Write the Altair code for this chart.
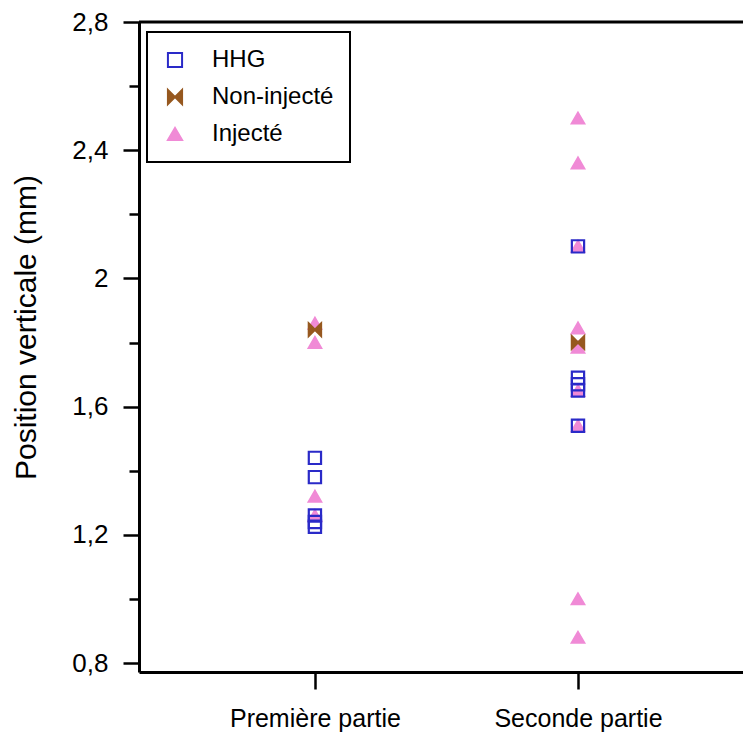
import altair as alt
import pandas as pd

# ---- data ----
categories = ["Première partie", "Seconde partie"]
series_names = ["HHG", "Non-injecté", "Injecté"]

hhg_premiere = [1.44, 1.38, 1.26, 1.24, 1.225]
hhg_seconde = [2.10, 1.69, 1.67, 1.65, 1.54]

noninj_premiere = [1.84]
noninj_seconde = [1.80]

inj_premiere = [1.86, 1.80, 1.32, 1.26]
inj_seconde = [2.50, 2.36, 2.10, 1.845, 1.785, 1.65, 1.54, 1.00, 0.88]

y_ticks_major = [0.8, 1.2, 1.6, 2.0, 2.4, 2.8]
y_ticks_all = [0.8, 1.0, 1.2, 1.4, 1.6, 1.8, 2.0, 2.2, 2.4, 2.6, 2.8]
y_domain = [0.772, 2.8]
frame_top = [2.8]

# ---- table (drawing order: Injecté, Non-injecté, HHG on top) ----
rows = []
for name, first, second in [
    ("Injecté", inj_premiere, inj_seconde),
    ("Non-injecté", noninj_premiere, noninj_seconde),
    ("HHG", hhg_premiere, hhg_seconde),
]:
    for v in first:
        rows.append({"partie": categories[0], "serie": name, "value": v})
    for v in second:
        rows.append({"partie": categories[1], "serie": name, "value": v})
df = pd.DataFrame(rows)

FONT = "Liberation Sans"
bowtie = "M-1,-1L0,0L-1,1Z M1,-1L0,0L1,1Z"

y_enc = alt.Y(
    "value:Q",
    scale=alt.Scale(domain=y_domain, nice=False, zero=False),
    axis=alt.Axis(
        title="Position verticale (mm)",
        values=y_ticks_all,
        labelExpr="round(datum.value*10) % 4 == 0 ? replace(format(datum.value, '.1~f'), '.', ',') : ''",
        tickSize={"condition": {"test": "round(datum.value*10) % 4 == 0", "value": 16}, "value": 10},
        tickWidth=2.5,
        tickColor="black",
        domainColor="black",
        domainWidth=3,
        labelFontSize=26,
        labelFont=FONT,
        labelColor="black",
        labelPadding=15,
        titleFont=FONT,
        titleFontSize=30,
        titleFontWeight="normal",
        titleColor="black",
        titlePadding=30,
        titleY=305,
        grid=False,
    ),
)

points = alt.Chart(df).mark_point(filled=False, strokeWidth=2.2, opacity=1).encode(
    x=alt.X(
        "partie:N",
        sort=categories,
        scale=alt.Scale(type="point", padding=0.648, align=0.516),
        axis=alt.Axis(
            title=None,
            labelAngle=0,
            tickSize=17,
            tickWidth=2.5,
            tickColor="black",
            domainColor="black",
            domainWidth=3,
            labelFontSize=25,
            labelFont=FONT,
            labelColor="black",
            labelPadding=17,
            grid=False,
        ),
    ),
    y=y_enc,
    shape=alt.Shape(
        "serie:N",
        scale=alt.Scale(domain=series_names, range=["square", bowtie, "triangle-up"]),
        legend=alt.Legend(
            title=None,
            orient="none",
            legendX=8,
            legendY=10,
            strokeColor="black",
            fillColor="white",
            padding=16,
            rowPadding=13,
            labelFontSize=24,
            labelFont=FONT,
            labelColor="black",
            labelOffset=25,
            symbolSize=200,
            symbolStrokeWidth=2,
        ),
    ),
    stroke=alt.Stroke(
        "serie:N",
        scale=alt.Scale(domain=series_names, range=["#2a2ac8", "#96581f", "#f08ad6"]),
        legend=None,
    ),
    fill=alt.Fill(
        "serie:N",
        scale=alt.Scale(domain=series_names, range=["transparent", "#96581f", "#f08ad6"]),
        legend=None,
    ),
    size=alt.value(150),
)

top_rule = alt.Chart(pd.DataFrame({"value": frame_top})).mark_rule(
    color="black", strokeWidth=3
).encode(y=y_enc)

chart = (
    alt.layer(points, top_rule)
    .properties(
        width=604,
        height=650,
        autosize=alt.AutoSizeParams(type="none"),
        padding={"left": 131, "top": 14, "right": 0, "bottom": 60},
        background="white",
    )
    .configure_view(stroke=None)
    .configure_legend(strokeWidth=2)
)

chart.save("out.html", embed_options={"renderer": "svg", "actions": False})
